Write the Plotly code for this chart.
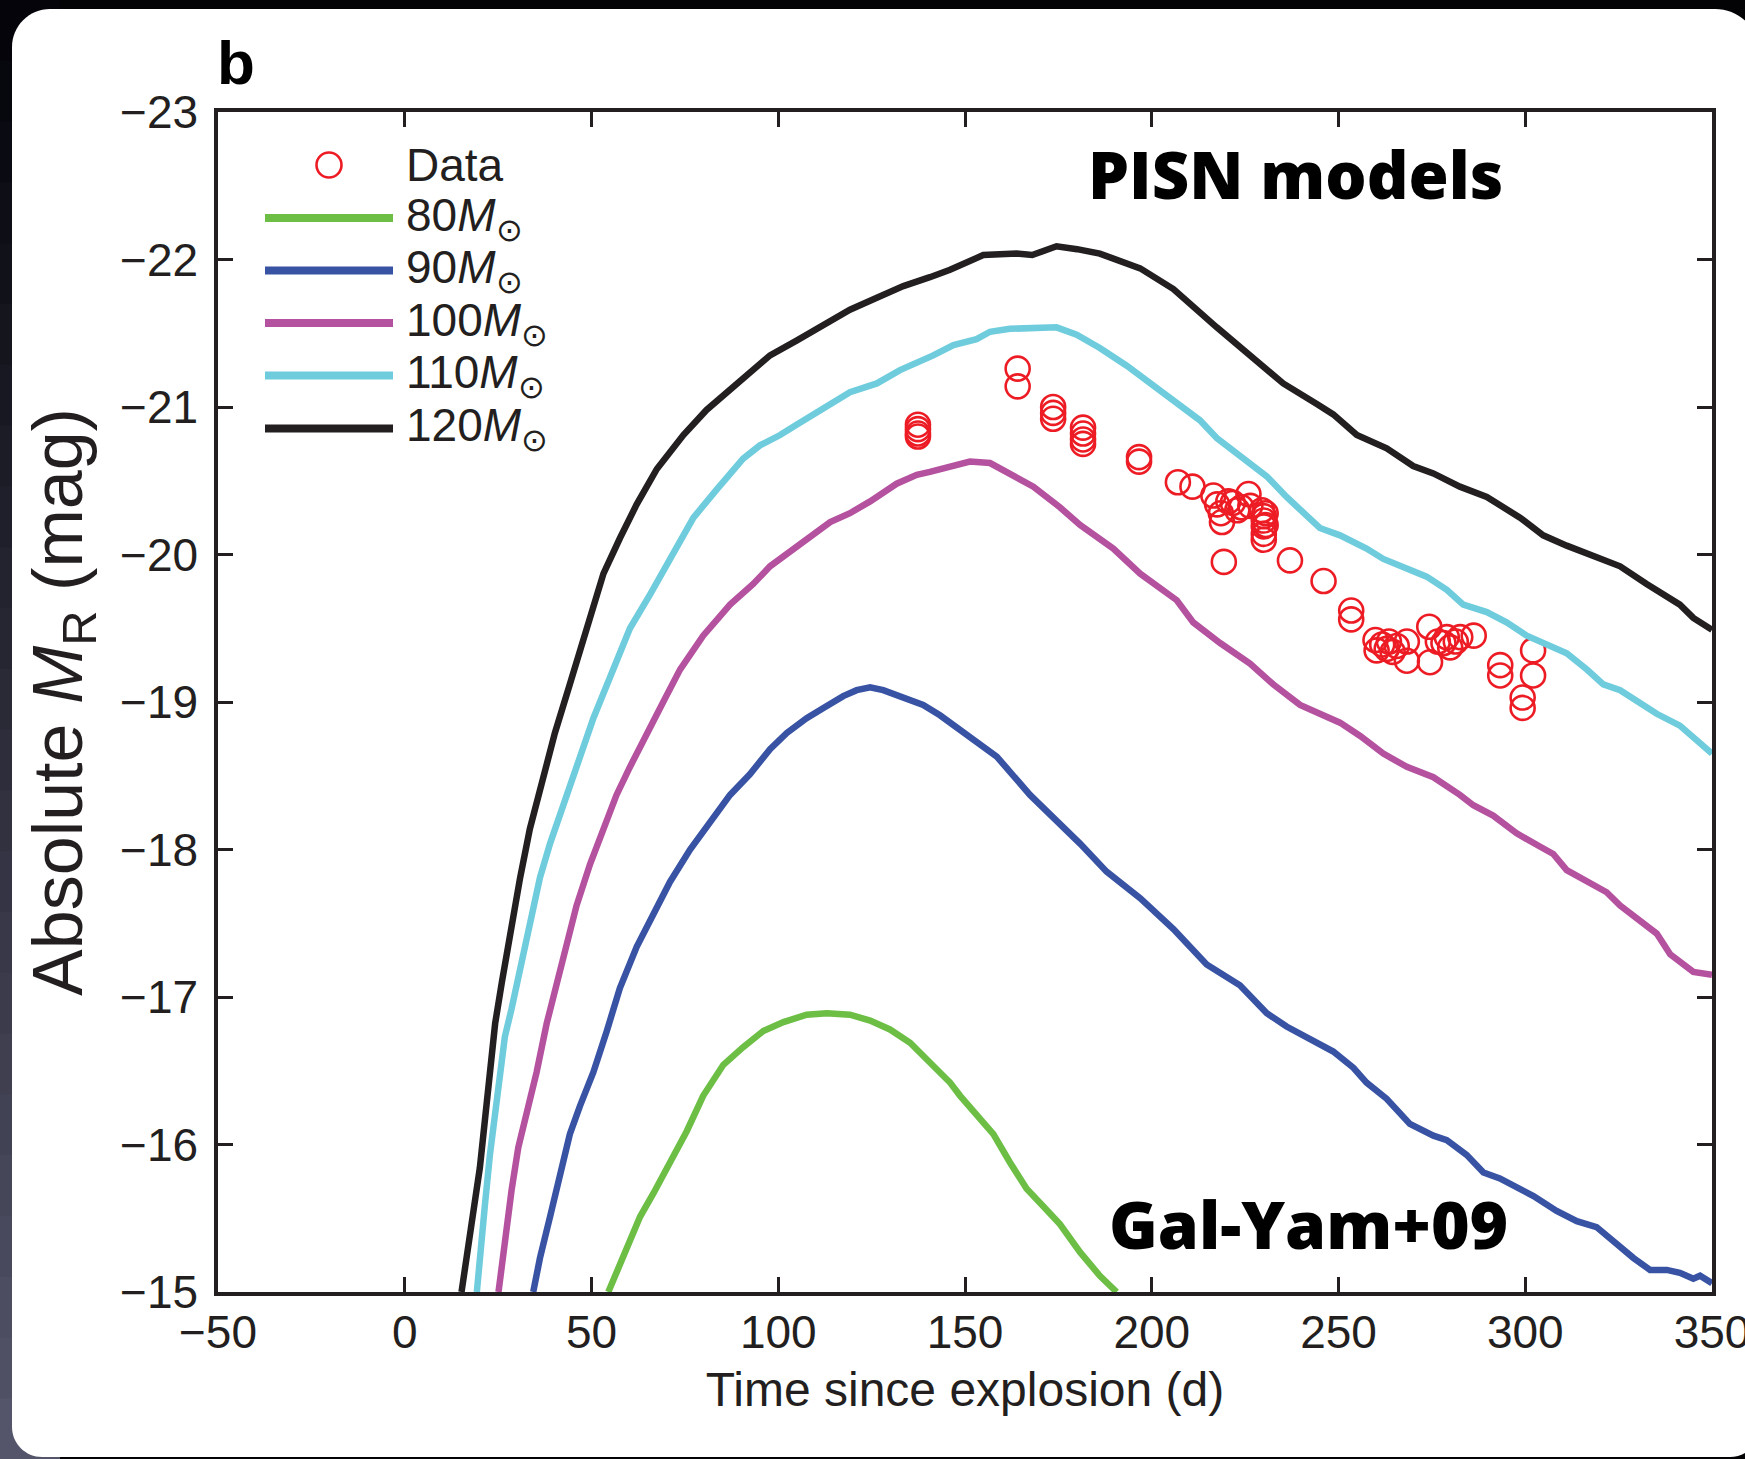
import plotly.graph_objects as go

# ---------------- data ----------------
m80 = [(54.5, -15.0), (57.6, -15.18), (60.3, -15.34), (63.0, -15.51), (66.6, -15.67), (71.0, -15.88),
       (75.5, -16.09), (79.9, -16.33), (85.3, -16.54), (90.6, -16.66), (96.0, -16.77), (101.4, -16.83),
       (107.6, -16.88), (113.0, -16.89), (119.2, -16.88), (124.6, -16.84), (129.9, -16.78), (135.3, -16.69),
       (140.0, -16.57), (146.0, -16.42), (148.7, -16.33), (157.6, -16.07), (162.0, -15.88), (166.5, -15.70),
       (171.0, -15.58), (175.4, -15.46), (180.8, -15.27), (186.1, -15.11), (190.6, -15.0)]

m90 = [(34.4, -15.0), (36.2, -15.23), (38.9, -15.51), (41.6, -15.79), (44.2, -16.07), (46.9, -16.26),
       (50.5, -16.49), (54.1, -16.77), (57.6, -17.06), (62.1, -17.34), (66.6, -17.57), (71.0, -17.78),
       (76.4, -18.00), (81.7, -18.18), (87.1, -18.37), (92.4, -18.51), (97.8, -18.68), (102.3, -18.79),
       (107.6, -18.89), (112.1, -18.96), (117.4, -19.04), (121.0, -19.08), (124.6, -19.10), (128.1, -19.08),
       (133.5, -19.03), (138.8, -18.98), (143.3, -18.91), (152.2, -18.75), (158.5, -18.63), (167.4, -18.37),
       (175.4, -18.18), (180.8, -18.04), (187.9, -17.85), (196.9, -17.67), (205.8, -17.46), (214.7, -17.22),
       (223.6, -17.08), (230.8, -16.89), (236.1, -16.80), (245.0, -16.68), (248.6, -16.63), (254.0, -16.52),
       (257.5, -16.42), (262.9, -16.31), (269.1, -16.14), (275.4, -16.06), (279.0, -16.03), (284.3, -15.93),
       (288.8, -15.81), (293.2, -15.77), (296.8, -15.72), (302.2, -15.65), (308.4, -15.55), (313.8, -15.48),
       (319.1, -15.44), (324.5, -15.32), (329.0, -15.23), (333.4, -15.15), (337.9, -15.15), (341.4, -15.13),
       (345.0, -15.09), (346.8, -15.11), (350.0, -15.06)]

m100 = [(25.1, -15.0), (26.0, -15.18), (27.3, -15.46), (28.6, -15.69), (30.4, -15.98), (32.6, -16.21),
        (35.3, -16.49), (38.0, -16.82), (40.7, -17.10), (43.4, -17.38), (46.0, -17.62), (49.6, -17.90),
        (53.2, -18.14), (56.7, -18.37), (60.3, -18.56), (64.8, -18.79), (69.2, -19.00), (73.7, -19.22),
        (79.9, -19.45), (87.1, -19.66), (93.3, -19.80), (97.8, -19.92), (103.1, -20.02), (108.5, -20.13),
        (113.9, -20.22), (119.2, -20.28), (124.6, -20.36), (131.7, -20.48), (137.1, -20.54), (140.6, -20.56),
        (146.0, -20.60), (151.3, -20.63), (156.7, -20.62), (162.0, -20.55), (168.3, -20.46), (175.4, -20.32),
        (180.8, -20.20), (189.7, -20.04), (196.9, -19.87), (206.7, -19.69), (211.1, -19.54), (218.3, -19.40),
        (226.3, -19.26), (232.5, -19.12), (239.7, -18.98), (245.0, -18.92), (250.4, -18.86), (255.8, -18.77),
        (262.0, -18.65), (268.3, -18.56), (275.4, -18.49), (282.5, -18.37), (286.1, -18.30), (291.4, -18.23),
        (297.7, -18.11), (303.9, -18.02), (307.5, -17.97), (311.1, -17.86), (316.5, -17.78), (321.8, -17.71),
        (325.4, -17.62), (330.7, -17.52), (335.2, -17.43), (338.8, -17.29), (345.0, -17.17), (350.0, -17.15)]

m110 = [(19.3, -15.0), (20.1, -15.27), (21.5, -15.60), (22.8, -15.93), (24.2, -16.21), (25.5, -16.49),
        (26.8, -16.73), (28.6, -16.92), (30.9, -17.20), (33.5, -17.53), (36.2, -17.81), (38.9, -18.04),
        (42.5, -18.32), (46.0, -18.56), (50.5, -18.89), (55.8, -19.22), (60.3, -19.50), (65.7, -19.73),
        (71.0, -19.97), (77.3, -20.25), (83.5, -20.44), (90.6, -20.65), (95.1, -20.74), (100.5, -20.81),
        (104.9, -20.88), (111.2, -20.98), (119.2, -21.10), (126.4, -21.16), (132.6, -21.25), (141.5, -21.35),
        (146.9, -21.42), (153.1, -21.46), (156.7, -21.51), (162.0, -21.53), (168.3, -21.54), (174.5, -21.54),
        (179.9, -21.49), (186.1, -21.40), (193.3, -21.28), (198.6, -21.18), (205.8, -21.04), (212.9, -20.91),
        (217.4, -20.79), (223.6, -20.67), (230.8, -20.53), (236.1, -20.39), (239.7, -20.30), (245.0, -20.18),
        (250.4, -20.13), (257.5, -20.04), (262.0, -19.97), (269.1, -19.90), (273.6, -19.85), (279.0, -19.76),
        (283.4, -19.66), (289.7, -19.61), (295.0, -19.54), (300.4, -19.45), (304.8, -19.40), (311.1, -19.33),
        (316.5, -19.22), (320.9, -19.12), (325.4, -19.08), (330.7, -19.00), (335.2, -18.92), (341.4, -18.84),
        (345.0, -18.76), (350.0, -18.65)]

m120 = [(15.2, -15.0), (16.6, -15.27), (18.4, -15.55), (20.1, -15.84), (21.5, -16.21), (22.8, -16.54),
        (24.2, -16.82), (26.0, -17.10), (28.2, -17.43), (30.9, -17.81), (33.5, -18.14), (36.7, -18.47),
        (40.2, -18.79), (44.2, -19.12), (48.7, -19.50), (53.2, -19.87), (57.6, -20.11), (62.1, -20.34),
        (67.5, -20.58), (74.6, -20.81), (80.8, -20.98), (87.1, -21.12), (92.4, -21.23), (97.8, -21.35),
        (104.9, -21.45), (112.1, -21.56), (119.2, -21.66), (126.4, -21.74), (133.5, -21.82), (140.6, -21.88),
        (146.0, -21.93), (154.9, -22.03), (163.8, -22.04), (168.0, -22.03), (174.5, -22.09), (180.0, -22.07),
        (186.1, -22.04), (196.9, -21.94), (205.8, -21.80), (217.4, -21.54), (226.3, -21.35), (235.2, -21.16),
        (244.2, -21.02), (248.6, -20.95), (254.9, -20.81), (258.4, -20.77), (262.9, -20.72), (270.0, -20.60),
        (275.4, -20.55), (282.5, -20.46), (289.7, -20.39), (298.6, -20.25), (304.8, -20.13), (311.1, -20.06),
        (320.0, -19.97), (325.4, -19.92), (332.5, -19.80), (337.9, -19.71), (341.4, -19.66), (345.0, -19.57),
        (350.0, -19.49)]

data_t = [137.4, 137.4, 137.4, 137.4, 164.1, 164.1, 173.6, 173.6, 173.6, 181.6, 181.6, 181.6, 181.6,
          196.6, 196.6, 207.0, 210.9,
          216.5, 217.5, 218.5, 218.8, 219.3, 220.5, 221.7, 222.9, 224.0, 225.9, 226.4, 229.5, 230.0, 230.0,
          230.0, 230.0, 230.0, 230.5, 230.5,
          237.0, 246.0, 253.4, 253.4,
          259.9, 260.2, 261.7, 262.9, 263.5, 264.5, 265.6, 268.3, 268.3, 274.3, 274.5, 276.6, 278.1, 279.0,
          279.9, 281.4, 282.6, 286.2,
          293.3, 293.3, 299.3, 299.3, 302.1, 302.1]
data_M = [-20.88, -20.85, -20.82, -20.80, -21.26, -21.14, -21.00, -20.96, -20.92, -20.86, -20.82, -20.78, -20.75,
          -20.66, -20.63, -20.49, -20.46,
          -20.40, -20.34, -20.28, -20.22, -19.95, -20.36, -20.35, -20.30, -20.32, -20.41, -20.33, -20.30, -20.26,
          -20.23, -20.19, -20.14, -20.10, -20.28, -20.20,
          -19.96, -19.82, -19.62, -19.56,
          -19.42, -19.35, -19.39, -19.36, -19.41, -19.34, -19.38, -19.28, -19.41, -19.51, -19.27, -19.41, -19.40,
          -19.44, -19.37, -19.41, -19.44, -19.45,
          -19.25, -19.18, -19.03, -18.96, -19.35, -19.18]

models = [("80", m80, "#6CBE45"), ("90", m90, "#3953A4"), ("100", m100, "#B5529F"),
          ("110", m110, "#6ECCDD"), ("120", m120, "#231F20")]
data_color = "#ED1C24"

x_ticks = [-50, 0, 50, 100, 150, 200, 250, 300, 350]
y_ticks = [-23, -22, -21, -20, -19, -18, -17, -16, -15]

# ---------------- layout geometry ----------------
W, H = 1745, 1459
L, R, T, B = 218, 33, 112, 167
PW, PH = W - L - R, H - T - B


def px(X):
    return (X - L) / PW


def py(Y):
    return (H - B - Y) / PH


INK = "#231F20"
FONT = "Liberation Sans, Arial, Helvetica, sans-serif"
BOLDFONT = "'Open Sans', Lato, 'Noto Sans', sans-serif"

fig = go.Figure()

fig.add_trace(go.Scatter(x=data_t, y=data_M, mode="markers", name="Data",
                         marker=dict(symbol="circle-open", size=24, color=data_color,
                                     line=dict(width=2.6, color=data_color)),
                         showlegend=False))
for mass, pts, col in models:
    fig.add_trace(go.Scatter(x=[p[0] for p in pts], y=[p[1] for p in pts], mode="lines",
                             name=mass + " M⊙", line=dict(color=col, width=6.5),
                             showlegend=False))

shapes = []
# dark backdrop on the left (gradient imitation)
nb = 24
for i in range(nb):
    f = i / (nb - 1)
    r_ = int(4 + f * 80)
    g_ = int(4 + f * 80)
    b_ = int(10 + f * 96)
    y0 = H * i / nb
    y1 = H * (i + 1) / nb + 1
    shapes.append(dict(type="rect", xref="paper", yref="paper", layer="below",
                       x0=px(0), x1=px(60), y0=py(y1), y1=py(y0),
                       fillcolor=f"rgb({r_},{g_},{b_})", line=dict(width=0)))

# white rounded panel
xl, xr, yt, yb = 12, 1760, 9, 1457
rtl, rtr, rbl, rbr = 38, 45, 30, 30
k = 0.5523


def P(X, Y):
    return f"{px(X):.5f},{py(Y):.5f}"


path = (f"M {P(xl + rtl, yt)} L {P(xr - rtr, yt)} "
        f"C {P(xr - rtr + k * rtr, yt)} {P(xr, yt + rtr - k * rtr)} {P(xr, yt + rtr)} "
        f"L {P(xr, yb - rbr)} "
        f"C {P(xr, yb - rbr + k * rbr)} {P(xr - rbr + k * rbr, yb)} {P(xr - rbr, yb)} "
        f"L {P(xl + rbl, yb)} "
        f"C {P(xl + rbl - k * rbl, yb)} {P(xl, yb - rbl + k * rbl)} {P(xl, yb - rbl)} "
        f"L {P(xl, yt + rtl)} "
        f"C {P(xl, yt + rtl - k * rtl)} {P(xl + rtl - k * rtl, yt)} {P(xl + rtl, yt)} Z")
shapes.append(dict(type="path", xref="paper", yref="paper", layer="below", path=path,
                   fillcolor="white", line=dict(width=0)))

# manual legend
leg_rows = [165, 218, 270.5, 323, 375.5, 428.5]
leg_x0, leg_x1, txt_x = 265, 393, 404
rc = 12.5
shapes.append(dict(type="circle", xref="paper", yref="paper",
                   x0=px(329 - rc), x1=px(329 + rc), y0=py(leg_rows[0] + rc), y1=py(leg_rows[0] - rc),
                   line=dict(color=data_color, width=2.6), fillcolor="rgba(0,0,0,0)"))
for (mass, pts, col), yrow in zip(models, leg_rows[1:]):
    shapes.append(dict(type="line", xref="paper", yref="paper",
                       x0=px(leg_x0), x1=px(leg_x1), y0=py(yrow), y1=py(yrow),
                       line=dict(color=col, width=8)))

annotations = []
leg_labels = ["Data"] + [f"{m[0]}<i>M</i><sub>⊙</sub>" for m in models]
for lab, yrow in zip(leg_labels, leg_rows):
    annotations.append(dict(text=lab, xref="paper", yref="paper", x=px(txt_x), y=py(yrow),
                            xanchor="left", yanchor="middle", showarrow=False,
                            font=dict(family=FONT, size=46, color=INK)))

annotations.append(dict(text="<b>b</b>", xref="paper", yref="paper", x=px(236), y=py(63),
                        xanchor="center", yanchor="middle", showarrow=False,
                        font=dict(family=FONT, size=62, color="black")))
annotations.append(dict(text="PISN models", xref="paper", yref="paper", x=px(1505), y=py(174),
                        xanchor="right", yanchor="middle", showarrow=False,
                        font=dict(family=BOLDFONT, size=65, color="black", weight=800)))
annotations.append(dict(text="Gal-Yam+09", xref="paper", yref="paper", x=px(1510), y=py(1223),
                        xanchor="right", yanchor="middle", showarrow=False,
                        font=dict(family=BOLDFONT, size=66, color="black", weight=800)))

axis_common = dict(showgrid=False, zeroline=False, showline=True, linecolor=INK, linewidth=3.5,
                   mirror="ticks", ticks="inside", ticklen=15, tickwidth=3, tickcolor=INK,
                   ticklabeloverflow="allow",
                   tickfont=dict(family=FONT, size=46, color=INK))

fig.update_layout(
    width=W, height=H,
    margin=dict(l=L, r=R, t=T, b=B, autoexpand=False),
    paper_bgcolor="#030306", plot_bgcolor="white",
    showlegend=False,
    shapes=shapes, annotations=annotations,
    xaxis=dict(range=[-50, 350], tickmode="array", tickvals=x_ticks,
               ticklabelstandoff=-3,
               title=dict(text="Time since explosion (d)", standoff=16,
                          font=dict(family=FONT, size=48, color=INK)),
               **axis_common),
    yaxis=dict(range=[-15, -23], tickmode="array", tickvals=y_ticks,
               ticklabelstandoff=7,
               title=dict(text="Absolute <i>M</i><sub>R</sub> (mag)", standoff=16,
                          font=dict(family=FONT, size=70, color=INK)),
               **axis_common),
)

fig.write_html("out.html",
               config={"displayModeBar": False},
               post_script="document.body.style.margin='0px';"
                           "document.body.style.background='#030306';"
                           "document.body.style.overflow='hidden';")
